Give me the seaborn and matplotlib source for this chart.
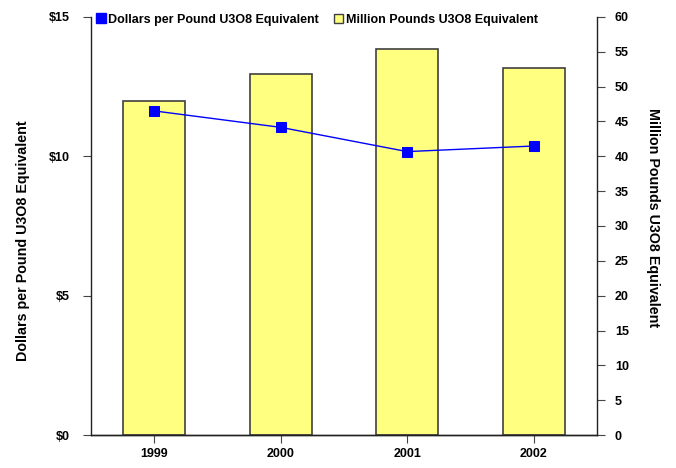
import matplotlib
matplotlib.use("Agg")
import matplotlib.pyplot as plt
import seaborn as sns
import pandas as pd
from matplotlib.lines import Line2D
from matplotlib.patches import Patch

years = ["1999", "2000", "2001", "2002"]
price = [11.63, 11.04, 10.17, 10.37]
pounds = [47.9, 51.8, 55.4, 52.7]
left_ticks = [0, 5, 10, 15]
left_labels = ["$0", "$5", "$10", "$15"]
right_ticks = list(range(0, 61, 5))

sns.set_theme(style="white")
plt.rcParams['font.family'] = ['Liberation Sans', 'DejaVu Sans']
plt.rcParams['font.weight'] = 'bold'
plt.rcParams['text.color'] = 'black'
plt.rcParams['axes.labelcolor'] = 'black'
plt.rcParams['xtick.color'] = 'black'
plt.rcParams['ytick.color'] = 'black'

df = pd.DataFrame({"year": years, "price": price, "pounds": pounds})

fig = plt.figure(figsize=(6.76, 4.68), dpi=100)
ax = fig.add_axes([0.1346, 0.0705, 0.7484, 0.8932])
ax2 = ax.twinx()

sns.barplot(data=df, x="year", y="pounds", ax=ax2, color="#FFFF80",
            saturation=1, width=0.49, edgecolor="#404040", linewidth=1.2)
sns.pointplot(data=df, x="year", y="price", ax=ax, color="#0000FF",
              markers="s", markersize=7, linewidth=1.0)

ax.set_zorder(ax2.get_zorder() + 1)
ax.patch.set_visible(False)

ax.set_xlim(-0.5, 3.5)
ax.set_ylim(0, 15)
ax2.set_ylim(0, 60)
ax.set_yticks(left_ticks)
ax.set_yticklabels(left_labels)
ax2.set_yticks(right_ticks)

for a in (ax, ax2):
    for s in a.spines.values():
        s.set_color("#222222")
        s.set_linewidth(1.0)
    a.spines["top"].set_visible(False)
    a.tick_params(axis="both", which="both", direction="out", length=6,
                  width=0.8, color="#444444", labelsize=9, pad=7,
                  labelcolor="black")
    for lab in a.get_xticklabels() + a.get_yticklabels():
        lab.set_fontweight("bold")
ax2.spines["left"].set_visible(False)
ax.spines["right"].set_visible(False)
ax.tick_params(axis="x", bottom=True, length=6, pad=3)
ax.tick_params(axis="y", left=True, pad=9)
ax2.tick_params(axis="y", right=True, pad=7)

ax.set_xlabel("")
ax2.set_xlabel("")
ax.set_ylabel("Dollars per Pound U3O8 Equivalent", fontsize=10.3,
              fontweight="bold", labelpad=14, color="black")
ax2.set_ylabel("Million Pounds U3O8 Equivalent", fontsize=10.3,
               fontweight="bold", rotation=-90, labelpad=22, color="black")
ax.yaxis.label.set_y(0.466)
ax2.yaxis.label.set_y(0.519)

handles = [
    Line2D([0], [0], color="#0000FF", marker="s", markersize=7,
           linewidth=1.0),
    Patch(facecolor="#FFFF80", edgecolor="#404040", linewidth=1.0),
]
ax.legend(handles, ["Dollars per Pound U3O8 Equivalent",
                    "Million Pounds U3O8 Equivalent"],
          loc="upper left", bbox_to_anchor=(-0.012, 1.035), ncol=2,
          frameon=False, handlelength=0.7, handleheight=0.8,
          handletextpad=0.25, columnspacing=1.2,
          prop={"weight": "bold", "size": 9})

fig.savefig("out.png", dpi=100)
